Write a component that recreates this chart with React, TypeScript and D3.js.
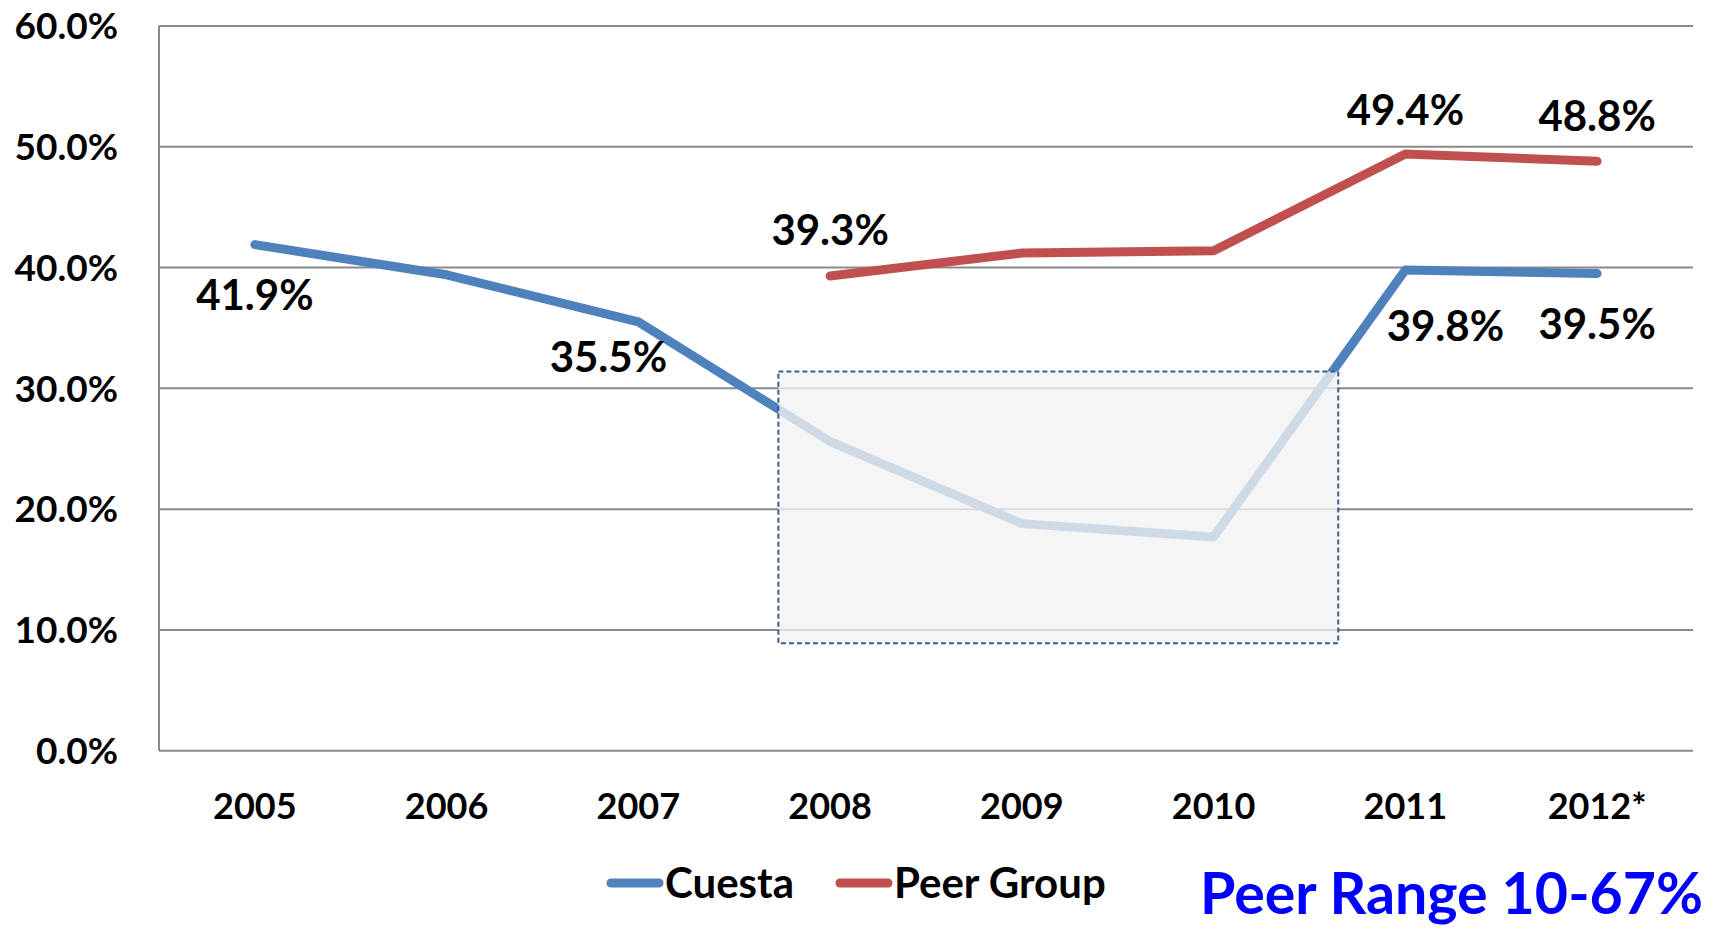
import React, { useEffect, useRef } from "react";
import * as d3 from "d3";

const years = ["2005", "2006", "2007", "2008", "2009", "2010", "2011", "2012*"];
const cuesta = [41.9, 39.4, 35.5, 25.6, 18.8, 17.7, 39.8, 39.5];
const peerGroup = [null, null, null, 39.3, 41.2, 41.4, 49.4, 48.8];
const yTicks = [0, 10, 20, 30, 40, 50, 60];

// which points carry a label: [series, index, dx, dy]
const labelSpots: [string, number, number, number][] = [
  ["cuesta", 0, 0, 50],
  ["cuesta", 2, -30, 35],
  ["cuesta", 6, 40, 56],
  ["cuesta", 7, 0, 50],
  ["peer", 3, 0, -46],
  ["peer", 6, 0, -44],
  ["peer", 7, 0, -45],
];

// shaded "peer range" box, in category index / percent units
const boxFrom = 2.73;
const boxTo = 5.65;
const boxLow = 8.9;
const boxHigh = 31.4;

const FONT = "Lato, 'Open Sans', sans-serif";

function Chart() {
  const ref = useRef<SVGSVGElement>(null);

  useEffect(() => {
    draw();
  }, []);

  const draw = () => {
    const width = 1714,
      height = 930;
    const left = 159,
      right = 1693,
      top = 26,
      bottom = 750.7;

    const svg = d3.select(ref.current);
    svg.selectAll("*").remove();
    svg.attr("width", width).attr("height", height);

    const x = d3.scalePoint<string>().domain(years).range([left, right]).padding(0.5);
    const y = d3.scaleLinear().domain([0, 60]).range([bottom, top]);
    const xAt = (i: number) => (x(years[0]) as number) + i * x.step();

    // gridlines
    svg
      .append("g")
      .selectAll("line")
      .data(yTicks)
      .enter()
      .append("line")
      .attr("x1", left)
      .attr("x2", right)
      .attr("y1", d => y(d))
      .attr("y2", d => y(d))
      .attr("stroke", "#898989")
      .attr("stroke-width", 2);

    svg
      .append("line")
      .attr("x1", left)
      .attr("x2", left)
      .attr("y1", top)
      .attr("y2", bottom)
      .attr("stroke", "#898989")
      .attr("stroke-width", 2);

    // y tick labels
    svg
      .append("g")
      .selectAll("text")
      .data(yTicks)
      .enter()
      .append("text")
      .attr("x", 118)
      .attr("y", d => y(d))
      .attr("dy", "0.36em")
      .attr("text-anchor", "end")
      .attr("font-family", FONT)
      .attr("font-weight", "bold")
      .attr("font-size", 37)
      .text(d => d.toFixed(1) + "%");

    // x tick labels
    svg
      .append("g")
      .selectAll("text")
      .data(years)
      .enter()
      .append("text")
      .attr("x", d => x(d) as number)
      .attr("y", 819)
      .attr("text-anchor", "middle")
      .attr("font-family", FONT)
      .attr("font-weight", "bold")
      .attr("font-size", 36)
      .text(d => d);

    const line = d3
      .line<number | null>()
      .defined(d => d != null)
      .x((d, i) => x(years[i]) as number)
      .y(d => y(d as number));

    svg
      .append("path")
      .datum(cuesta)
      .attr("fill", "none")
      .attr("stroke", "#4F81BD")
      .attr("stroke-width", 9)
      .attr("stroke-linecap", "round")
      .attr("stroke-linejoin", "round")
      .attr("d", line as any);

    svg
      .append("path")
      .datum(peerGroup)
      .attr("fill", "none")
      .attr("stroke", "#C0504D")
      .attr("stroke-width", 9)
      .attr("stroke-linecap", "round")
      .attr("stroke-linejoin", "round")
      .attr("d", line as any);

    // peer range box on top of the lines
    svg
      .append("rect")
      .attr("x", xAt(boxFrom))
      .attr("y", y(boxHigh))
      .attr("width", xAt(boxTo) - xAt(boxFrom))
      .attr("height", y(boxLow) - y(boxHigh))
      .attr("fill", "#F2F2F2")
      .attr("fill-opacity", 0.785)
      .attr("stroke", "#385D8A")
      .attr("stroke-width", 2)
      .attr("stroke-dasharray", "5 3");

    // data labels
    svg
      .append("g")
      .selectAll("text")
      .data(labelSpots)
      .enter()
      .append("text")
      .attr("x", d => (x(years[d[1]]) as number) + d[2])
      .attr("y", d => {
        const v = d[0] === "cuesta" ? cuesta[d[1]] : peerGroup[d[1]];
        return y(v as number) + d[3];
      })
      .attr("dy", "0.36em")
      .attr("text-anchor", "middle")
      .attr("font-family", FONT)
      .attr("font-weight", "bold")
      .attr("font-size", 42)
      .text(d => {
        const v = d[0] === "cuesta" ? cuesta[d[1]] : peerGroup[d[1]];
        return (v as number).toFixed(1) + "%";
      });

    // legend
    const legend = [
      { name: "Cuesta", color: "#4F81BD", x: 607 },
      { name: "Peer Group", color: "#C0504D", x: 836 },
    ];
    const lg = svg.append("g");
    legend.forEach(l => {
      lg.append("line")
        .attr("x1", l.x + 4)
        .attr("x2", l.x + 52)
        .attr("y1", 883)
        .attr("y2", 883)
        .attr("stroke", l.color)
        .attr("stroke-width", 9)
        .attr("stroke-linecap", "round");
      lg.append("text")
        .attr("x", l.x + 58)
        .attr("y", 883)
        .attr("dy", "0.36em")
        .attr("font-family", FONT)
        .attr("font-weight", "bold")
        .attr("font-size", 42)
        .text(l.name);
    });

    svg
      .append("text")
      .attr("x", 1200)
      .attr("y", 914)
      .attr("font-family", FONT)
      .attr("font-weight", "bold")
      .attr("font-size", 57)
      .attr("fill", "#0000FF")
      .attr("textLength", 503)
      .attr("lengthAdjust", "spacingAndGlyphs")
      .text("Peer Range 10-67%");
  };

  return (
    <svg
      ref={ref}
      style={{ position: "absolute", left: 0, top: 0, display: "block", background: "#fff" }}
    />
  );
}

export default function App() {
  return <Chart />;
}
